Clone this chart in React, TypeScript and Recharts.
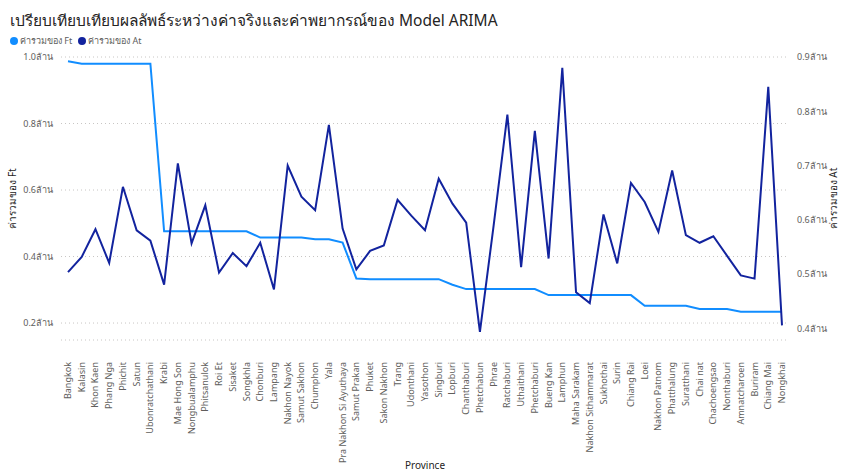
import { LineChart, Line, XAxis, YAxis, CartesianGrid } from "recharts";

const provinces = [
  "Bangkok", "Kalasin", "Khon Kaen", "Phang Nga", "Phichit", "Satun", "Ubonratchathani",
  "Krabi", "Mae Hong Son", "Nongbualamphu", "Phitsanulok", "Roi Et", "Sisaket", "Songkhla",
  "Chonburi", "Lampang", "Nakhon Nayok", "Samut Sakhon", "Chumphon", "Yala",
  "Pra Nakhon Si Ayuthaya", "Samut Prakan", "Phuket", "Sakon Nakhon", "Trang", "Udonthani",
  "Yasothon", "Singburi", "Lopburi", "Chanthaburi", "Phetchabun", "Phrae", "Ratchaburi",
  "Uthaithani", "Phetchaburi", "Bueng Kan", "Lamphun", "Maha Sarakam", "Nakhon Sithammarat",
  "Sukhothai", "Surin", "Chiang Rai", "Loei", "Nakhon Patnom", "Phatthalung", "Suratthani",
  "Chai nat", "Chachoengsao", "Nonthaburi", "Amnatcharoen", "Buriram", "Chiang Mai", "Nongkhai",
];

// ค่ารวมของ Ft (ล้าน) - forecast
const ftValues = [
  0.987, 0.98, 0.98, 0.98, 0.98, 0.98, 0.98,
  0.476, 0.476, 0.476, 0.476, 0.476, 0.476, 0.476,
  0.457, 0.457, 0.457, 0.457, 0.452, 0.452,
  0.442, 0.334, 0.332, 0.332, 0.332, 0.332,
  0.332, 0.332, 0.315, 0.302, 0.302, 0.302, 0.302,
  0.302, 0.302, 0.284, 0.284, 0.284, 0.284,
  0.284, 0.284, 0.284, 0.252, 0.252, 0.252, 0.252,
  0.242, 0.242, 0.242, 0.234, 0.234, 0.234, 0.234,
];

// ค่ารวมของ At (ล้าน) - actual
const atValues = [
  0.504, 0.532, 0.583, 0.521, 0.661, 0.581, 0.562,
  0.481, 0.704, 0.557, 0.627, 0.503, 0.539, 0.515,
  0.558, 0.472, 0.7, 0.643, 0.618, 0.775,
  0.584, 0.509, 0.543, 0.553, 0.637, 0.608,
  0.581, 0.676, 0.63, 0.595, 0.394, 0.59, 0.794,
  0.513, 0.764, 0.529, 0.88, 0.467, 0.447,
  0.61, 0.52, 0.668, 0.633, 0.578, 0.691, 0.572,
  0.558, 0.57, 0.534, 0.498, 0.492, 0.845, 0.406,
];

const ftTicks = [0.2, 0.4, 0.6, 0.8, 1.0];
const atTicks = [0.4, 0.5, 0.6, 0.7, 0.8, 0.9];

const data = provinces.map((p, i) => ({ province: p, ft: ftValues[i], at: atValues[i] }));

const FT_COLOR = "#118DFF";
const AT_COLOR = "#12239E";
const FONT = "'Segoe UI', 'Noto Sans', 'Open Sans', sans-serif";

const fmt = (v: number) => `${v.toFixed(1)}ล้าน`;

function ProvinceTick(props: any) {
  const { x, y, payload } = props;
  const ty = y + 14;
  return (
    <text
      x={x}
      y={ty}
      dy={3}
      transform={`rotate(-90 ${x} ${ty})`}
      textAnchor="end"
      fontSize={9}
      fill="#605E5C"
      fontFamily={FONT}
    >
      {payload.value}
    </text>
  );
}

function TopLegend() {
  const items = [
    { name: "ค่ารวมของ Ft", color: FT_COLOR },
    { name: "ค่ารวมของ At", color: AT_COLOR },
  ];
  return (
    <div style={{ display: "flex", gap: 6, fontSize: 9, color: "#605E5C", fontFamily: FONT }}>
      {items.map((it) => (
        <div key={it.name} style={{ display: "flex", alignItems: "center", gap: 2 }}>
          <span style={{ width: 8, height: 8, borderRadius: 4, background: it.color, display: "inline-block" }} />
          <span>{it.name}</span>
        </div>
      ))}
    </div>
  );
}

export default function App() {
  return (
    <div style={{ position: "relative", width: 842, height: 472, background: "#fff", fontFamily: FONT }}>
      <style>{`body{margin:0}`}</style>
      <div style={{ position: "absolute", left: 10, top: 8, fontSize: 15.5, color: "#252423", fontFamily: FONT }}>
        เปรียบเทียบเทียบผลลัพธ์ระหว่างค่าจริงและค่าพยากรณ์ของ Model ARIMA
      </div>
      <div style={{ position: "absolute", left: 10, top: 34 }}>
        <TopLegend />
      </div>
      <LineChart width={842} height={472} data={data} margin={{ top: 57, right: 13, bottom: 0, left: 21 }}>
        <CartesianGrid yAxisId="ft" vertical={false} stroke="#C8C6C4" strokeDasharray="1 3" />
        <XAxis
          dataKey="province"
          interval={0}
          height={132}
          tick={<ProvinceTick />}
          tickLine={false}
          axisLine={false}
          padding={{ left: 7, right: 7 }}
          label={{ value: "Province", position: "insideBottom", offset: 3, fontSize: 10, fill: "#252423" }}
        />
        <YAxis
          yAxisId="ft"
          width={40}
          domain={[0.149, 1.0]}
          ticks={ftTicks}
          allowDataOverflow
          tickFormatter={fmt}
          tick={{ fontSize: 9, fill: "#605E5C" }}
          tickLine={false}
          axisLine={false}
          label={{ value: "ค่ารวมของ Ft", angle: -90, position: "insideLeft", offset: -9, fontSize: 10, fill: "#252423", style: { textAnchor: "middle" } }}
        />
        <YAxis
          yAxisId="at"
          orientation="right"
          width={40}
          domain={[0.379, 0.9]}
          ticks={atTicks}
          allowDataOverflow
          tickFormatter={fmt}
          tick={{ fontSize: 9, fill: "#605E5C" }}
          tickLine={false}
          axisLine={false}
          label={{ value: "ค่ารวมของ At", angle: -90, position: "insideRight", offset: -4, fontSize: 10, fill: "#252423", style: { textAnchor: "middle" } }}
        />
        <Line yAxisId="ft" type="linear" dataKey="ft" stroke={FT_COLOR} strokeWidth={2} dot={false} isAnimationActive={false} />
        <Line yAxisId="at" type="linear" dataKey="at" stroke={AT_COLOR} strokeWidth={2} dot={false} isAnimationActive={false} />
      </LineChart>
    </div>
  );
}
